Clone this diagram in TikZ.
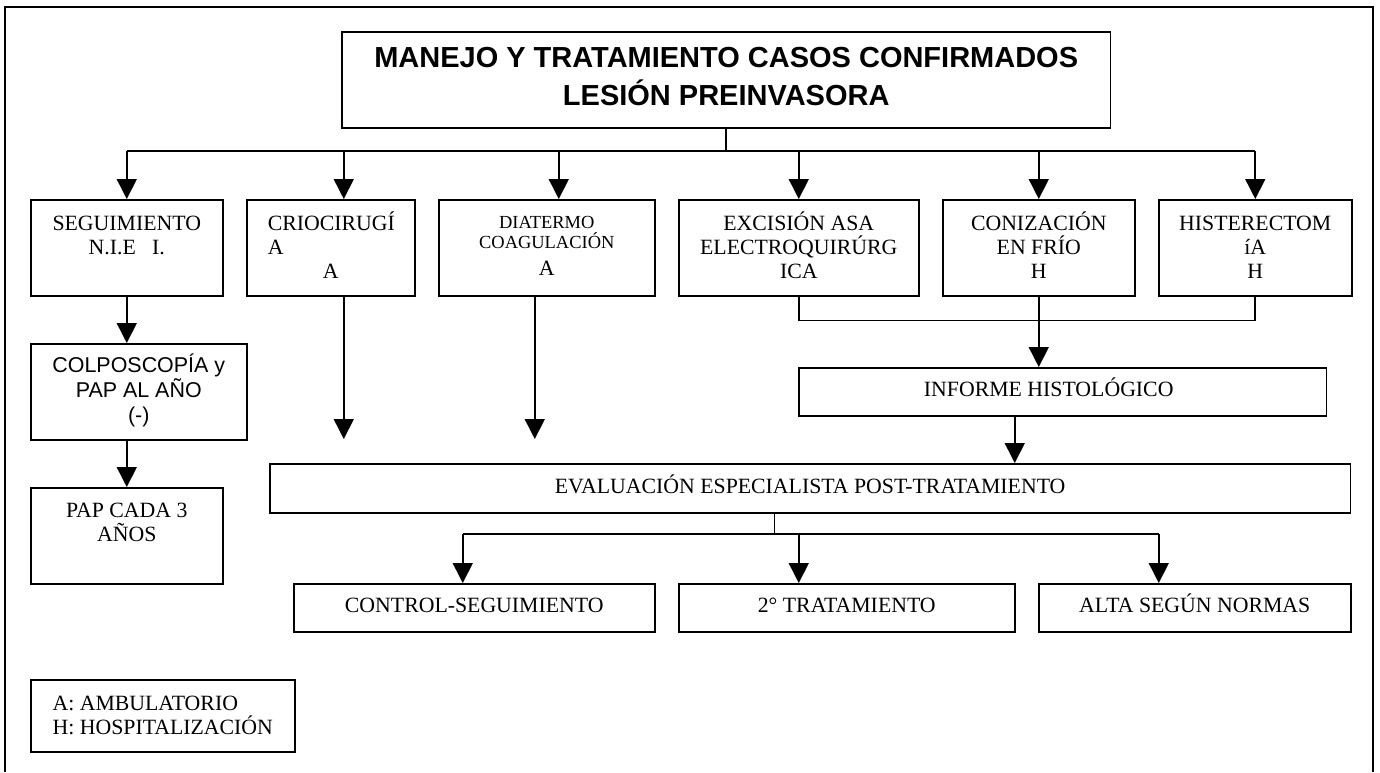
\documentclass[tikz,border=0pt]{standalone}
\usepackage{fontspec}
\setmainfont{Liberation Serif}
\newfontfamily\arial{Liberation Sans}
\usetikzlibrary{arrows.meta}
\newcommand{\arriba}[4]{\parbox[c][#2cm][t]{#1cm}{\lineskiplimit=-20pt\centering\rule{0pt}{#3cm}#4}}
\tikzset{
  caja/.style={draw, line width=0.9pt, anchor=north west, inner sep=0pt, font=\fontsize{12.4}{13.6}\selectfont},
  tam/.style 2 args={minimum width=#1cm, minimum height=#2cm},
  una/.style={text height=8pt, text depth=2.3pt},
  linea/.style={line width=0.9pt},
  flecha/.style={linea, -{Triangle[width=0.4cm,length=0.4cm]}}
}
\begin{document}
\begin{tikzpicture}[x=0.02cm, y=-0.02cm]
\useasboundingbox (0,0) rectangle (1380,772);
\draw[linea] (5,772) |- (1373,7) -- (1373,772);
\node[caja, font=\arial\bfseries\fontsize{16.5}{21.6}\selectfont] (titulo) at (341,31) {\arriba{15.38}{1.92}{0.72}{MANEJO Y TRATAMIENTO CASOS CONFIRMADOS\\LESIÓN PREINVASORA}};
\node[caja] (seg) at (30,199) {\arriba{3.84}{1.92}{0.62}{SEGUIMIENTO\\N.I.E~~~I.}};
\node[caja] (crio) at (246,199) {\arriba{3.36}{1.92}{0.62}{\makebox[\linewidth][l]{\hspace{0.42cm}CRIOCIRUGÍ}\\\makebox[\linewidth][l]{\hspace{0.42cm}A}\\A}};
\node[caja] (diat) at (438,199) {\arriba{4.32}{1.92}{0.58}{{\fontsize{10.5}{12}\selectfont DIATERMO\\[-2.3pt]COAGULACIÓN}\\[1.7pt]A}};
\node[caja] (exc) at (678,199) {\arriba{4.8}{1.92}{0.62}{EXCISIÓN ASA\\ELECTROQUIRÚRG\\ICA}};
\node[caja] (coni) at (942,199) {\arriba{3.84}{1.92}{0.62}{CONIZACIÓN\\EN FRÍO\\H}};
\node[caja] (hist) at (1158,199) {\arriba{3.86}{1.92}{0.62}{HISTERECTOM\\íA\\H}};
\node[caja, font=\arial\fontsize{12.2}{14.2}\selectfont] (colpo) at (30,343) {\arriba{4.32}{1.92}{0.58}{COLPOSCOPÍA y\\PAP AL AÑO\\(-)}};
\node[caja] (pap) at (30,487) {\arriba{3.84}{1.92}{0.6}{PAP CADA 3\\AÑOS}};
\node[caja, una, tam={10.56}{0.96}] (inf) at (798,367) {INFORME HISTOLÓGICO\kern0.56cm};
\node[caja, una, tam={21.62}{0.98}] (evalu) at (269,463) {EVALUACIÓN ESPECIALISTA POST-TRATAMIENTO};
\node[caja, una, tam={7.22}{0.96}] (ctrl) at (293,583) {CONTROL-SEGUIMIENTO};
\node[caja, una, tam={6.72}{0.96}] (trat) at (678,583) {2° TRATAMIENTO};
\node[caja, una, tam={6.24}{0.96}] (alta) at (1038,583) {ALTA SEGÚN NORMAS};
\node[caja, tam={5.28}{1.44}, align=left] (ley) at (30,679) {A: AMBULATORIO\\H: HOSPITALIZACIÓN};
\coordinate (bus) at (725,151);
\coordinate (bus2) at (774,534);
\draw[linea] (titulo.south) -- (titulo.south |- bus);
\draw[linea] (seg.north |- bus) -- (hist.north |- bus);
\foreach \n/\d in {seg/0, crio/0.26, diat/0.24, exc/0, coni/0, hist/0}
  \draw[flecha] ([xshift=\d cm]\n.north |- bus) -- ([xshift=\d cm]\n.north);
\draw[flecha] (seg.south) -- (seg.south |- colpo.north);
\draw[flecha] (pap.north |- colpo.south) -- (pap.north);
\draw[flecha, shorten >=0.48cm] ([xshift=0.26cm]crio.south) -- ([xshift=0.26cm]crio.south |- evalu.north);
\draw[flecha, shorten >=0.48cm] ([xshift=-0.24cm]diat.south) -- ([xshift=-0.24cm]diat.south |- evalu.north);
\draw[linea] (exc.south) -- ++(0,24) -| (hist.south);
\draw[flecha] (coni.south) -- (coni.south |- inf.north);
\draw[flecha] ([xshift=-0.96cm]inf.south) -- ([xshift=-0.96cm]inf.south |- evalu.north);
\draw[linea] ([xshift=-0.71cm]evalu.south) -- ([xshift=-0.71cm]evalu.south |- bus2);
\draw[linea] ([xshift=-0.23cm]ctrl.north |- bus2) -- ([xshift=-0.72cm]alta.north |- bus2);
\foreach \n/\d in {ctrl/-0.23, trat/-0.96, alta/-0.72}
  \draw[flecha] ([xshift=\d cm]\n.north |- bus2) -- ([xshift=\d cm]\n.north);
\end{tikzpicture}
\end{document}
